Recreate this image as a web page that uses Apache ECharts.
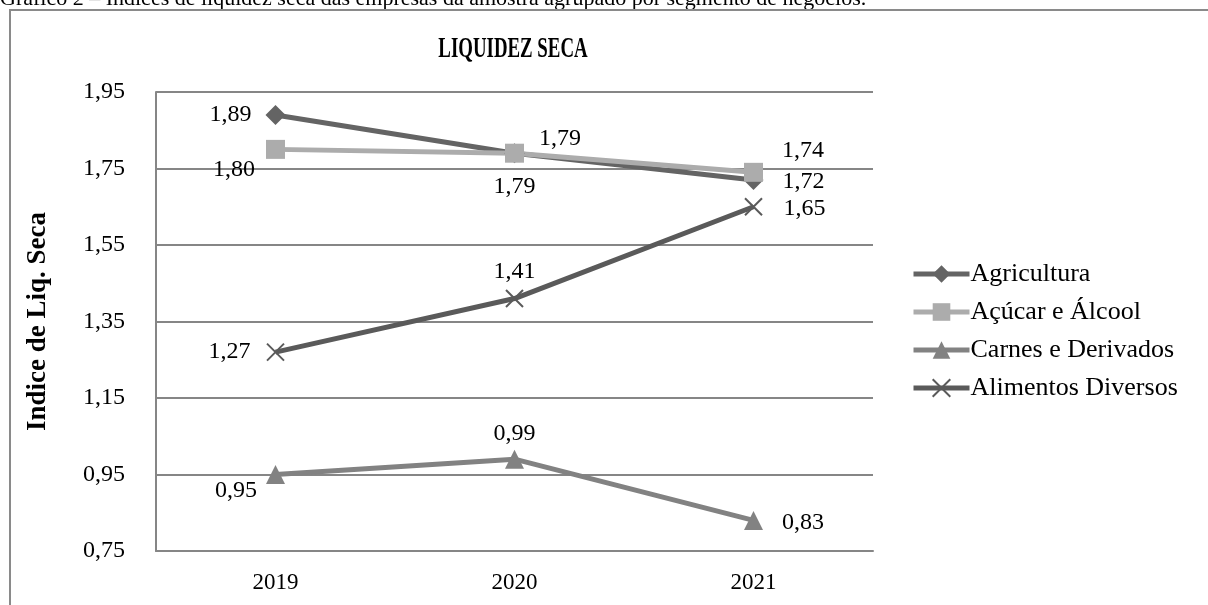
<!DOCTYPE html>
<html>
<head>
<meta charset="utf-8">
<script src="https://cdn.jsdelivr.net/npm/echarts@6/dist/echarts.min.js"></script>
<style>
  html, body { margin: 0; padding: 0; background: #fff; }
  #chart { width: 1208px; height: 605px; }
</style>
</head>
<body>
<div id="chart"></div>
<script>
// dados
const years = ['2019', '2020', '2021'];
const agricultura = [1.89, 1.79, 1.72];
const acucar = [1.80, 1.79, 1.74];
const carnes = [0.95, 0.99, 0.83];
const alimentos = [1.27, 1.41, 1.65];

const FONT = '"Liberation Serif", "Times New Roman", serif';
const fmt = (v) => v.toFixed(2).replace('.', ',');

// posição dos rótulos de cada ponto (como no original)
const labelCfg = {
    agricultura: [{ position: 'left', distance: 14 }, { position: 'bottom', distance: 12 }, { position: 'right', offset: [14, 2] }],
    acucar: [{ position: 'left', offset: [-6, 20] }, { position: 'right', offset: [10, -14] }, { position: 'right', offset: [14, -22] }],
    carnes: [{ position: 'left', offset: [-4, 16] }, { position: 'top', distance: 4 }, { position: 'right', offset: [14, 2] }],
    alimentos: [{ position: 'left', distance: 14 }, { position: 'top', distance: 4 }, { position: 'right', offset: [14, 2] }],
};

const crossPath = 'path://M0,0 L10,10 M10,0 L0,10';

function makeSeries(name, values, key, color, symbol, symbolSize, extra) {
    return Object.assign({
        name,
        type: 'line',
        data: values.map((v, i) => ({
            value: v,
            label: Object.assign({ show: true }, labelCfg[key][i]),
        })),
        symbol,
        symbolSize,
        lineStyle: { color, width: 5 },
        itemStyle: { color },
        label: {
            color: '#000',
            fontFamily: FONT,
            fontSize: 24,
            formatter: (p) => fmt(p.value),
        },
        z: 3,
    }, extra || {});
}

const chart = echarts.init(document.getElementById('chart'), null, { renderer: 'canvas' });

chart.setOption({
    animation: false,
    backgroundColor: '#fff',
    graphic: [
        {
            type: 'text',
            left: 0,
            top: -12,
            style: {
                text: 'Gráfico 2 – Índices de liquidez seca das empresas da amostra agrupado por segmento de negócios.',
                font: '22px ' + FONT,
                fill: '#000',
            },
        },
        {
            type: 'polyline',
            shape: { points: [[10, 620], [10, 10], [1220, 10]] },
            style: { stroke: '#8a8a8a', lineWidth: 2, fill: null },
        },
        {
            // título condensado como no original
            type: 'text',
            x: 513,
            y: 50,
            scaleX: 0.65,
            style: {
                text: 'LIQUIDEZ SECA',
                font: 'bold 29px ' + FONT,
                fill: '#000',
                align: 'center',
                verticalAlign: 'middle',
            },
        },
    ],
    grid: { left: 156, right: 335, top: 92, bottom: 54 },
    legend: {
        orient: 'vertical',
        left: 906,
        top: 256,
        itemGap: 12,
        itemWidth: 56,
        itemHeight: 22,
        lineStyle: { width: 5 },
        textStyle: { fontFamily: FONT, fontSize: 26, color: '#000', padding: [0, 0, 0, -4] },
        data: ['Agricultura', 'Açúcar e Álcool', 'Carnes e Derivados', 'Alimentos Diversos'],
    },
    xAxis: {
        type: 'category',
        data: years,
        boundaryGap: true,
        axisLine: { lineStyle: { color: '#868686', width: 2 } },
        axisTick: { show: false },
        axisLabel: { fontFamily: FONT, fontSize: 23, color: '#000', margin: 20 },
    },
    yAxis: {
        type: 'value',
        min: 0.75,
        max: 1.95,
        interval: 0.2,
        name: 'Indice de Liq. Seca',
        nameLocation: 'middle',
        nameGap: 104,
        nameTextStyle: { fontFamily: FONT, fontSize: 27, fontWeight: 'bold', color: '#000' },
        axisLine: { show: true, lineStyle: { color: '#868686', width: 2 } },
        axisTick: { show: false },
        splitLine: { lineStyle: { color: '#868686', width: 2 } },
        axisLabel: { fontFamily: FONT, fontSize: 24, color: '#000', margin: 31, formatter: (v) => fmt(v) },
    },
    series: [
        makeSeries('Agricultura', agricultura, 'agricultura', '#646464', 'diamond', 20),
        makeSeries('Açúcar e Álcool', acucar, 'acucar', '#acacac', 'rect', 19),
        makeSeries('Carnes e Derivados', carnes, 'carnes', '#828282', 'triangle', 19),
        makeSeries('Alimentos Diversos', alimentos, 'alimentos', '#5a5a5a', crossPath, 17,
            { itemStyle: { color: 'none', borderColor: '#5a5a5a', borderWidth: 2 } }),
    ],
});
</script>
</body>
</html>
